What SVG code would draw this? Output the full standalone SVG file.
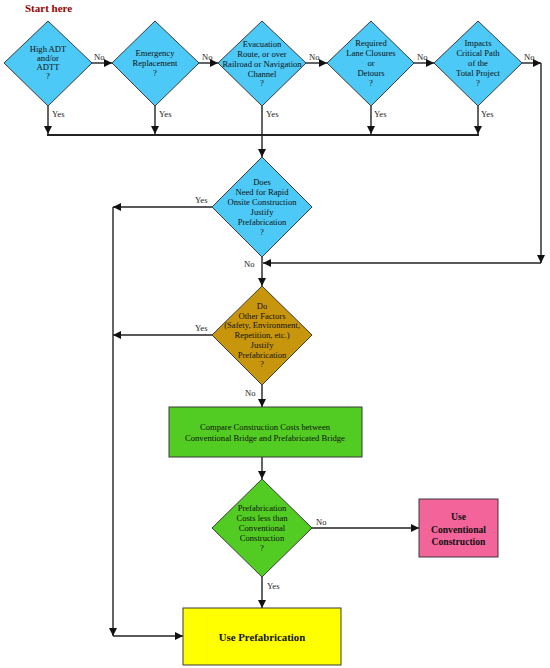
<svg xmlns="http://www.w3.org/2000/svg" width="550" height="668" viewBox="0 0 550 668">
<defs>
<marker id="ah" markerUnits="userSpaceOnUse" markerWidth="8" markerHeight="8" viewBox="0 0 8 8" refX="8" refY="4" orient="auto">
<path d="M0,0 L8,4 L0,8 Z" fill="#111"/>
</marker>
</defs>
<style>
.bg{fill:#ffffff}
.d{stroke:#3a3a3a;stroke-width:1}
.blue{fill:#4CC9F6}
.gold{fill:#C8960C}
.green{fill:#52CC22}
.t{font-family:"Liberation Serif","Times New Roman",serif;font-size:8.6px;fill:#111;text-anchor:middle}
.lbl{font-family:"Liberation Serif","Times New Roman",serif;font-size:8.6px;fill:#222}
.b{font-family:"Liberation Serif","Times New Roman",serif;font-weight:bold;fill:#111;text-anchor:middle}
.c{fill:none;stroke:#222;stroke-width:1.4}
.ca{fill:none;stroke:#222;stroke-width:1.4;marker-end:url(#ah)}
</style>
<rect class="bg" x="0" y="0" width="550" height="668"/>
<text x="25" y="12" font-family="Liberation Serif,'Times New Roman',serif" font-weight="bold" font-size="11px" fill="#990000">Start here</text>

<g id="connectors">
<line class="ca" x1="92" y1="63" x2="112" y2="63"/>
<line class="ca" x1="199" y1="63" x2="218" y2="63"/>
<line class="ca" x1="306" y1="63" x2="327" y2="63"/>
<line class="ca" x1="414" y1="63" x2="434" y2="63"/>
<line class="ca" x1="522" y1="63" x2="541" y2="63"/>
<line class="ca" x1="541" y1="63" x2="541" y2="263"/>
<line class="ca" x1="541" y1="263" x2="263" y2="263"/>
<line class="ca" x1="48" y1="106" x2="48" y2="134"/>
<line class="ca" x1="155" y1="106" x2="155" y2="134"/>
<line class="ca" x1="371" y1="106" x2="371" y2="134"/>
<line class="ca" x1="478" y1="106" x2="478" y2="134"/>
<line class="c" x1="47" y1="135" x2="479" y2="135" style="stroke-width:2"/>
<line class="ca" x1="262" y1="106" x2="262" y2="157"/>
<line class="ca" x1="212" y1="207" x2="113" y2="207"/>
<line class="ca" x1="262" y1="257" x2="262" y2="286"/>
<line class="ca" x1="212" y1="335" x2="113" y2="335"/>
<line class="ca" x1="113" y1="207" x2="113" y2="636"/>
<line class="ca" x1="113" y1="636" x2="183" y2="636"/>
<line class="ca" x1="262" y1="385" x2="262" y2="407"/>
<line class="ca" x1="262" y1="457" x2="262" y2="479"/>
<line class="ca" x1="312" y1="528" x2="419" y2="528"/>
<line class="ca" x1="262" y1="577" x2="262" y2="608"/>
<text class="lbl" x="94" y="60">No</text>
<text class="lbl" x="202" y="60">No</text>
<text class="lbl" x="309" y="60">No</text>
<text class="lbl" x="417" y="60">No</text>
<text class="lbl" x="524" y="60">No</text>
<text class="lbl" x="52" y="117">Yes</text>
<text class="lbl" x="159" y="117">Yes</text>
<text class="lbl" x="266" y="117">Yes</text>
<text class="lbl" x="374" y="117">Yes</text>
<text class="lbl" x="481" y="117">Yes</text>
<text class="lbl" x="195" y="203">Yes</text>
<text class="lbl" x="244" y="267">No</text>
<text class="lbl" x="195" y="331">Yes</text>
<text class="lbl" x="245" y="396">No</text>
<text class="lbl" x="316" y="525">No</text>
<text class="lbl" x="267" y="589">Yes</text>
</g>

<g id="q1">
<polygon class="d blue" points="48,21 92,63 48,106 4,63"/>
<text class="t"><tspan x="48" y="52">High ADT</tspan><tspan x="48" y="61">and/or</tspan><tspan x="48" y="70">ADTT</tspan><tspan x="48" y="79">?</tspan></text>
</g>
<g id="q2">
<polygon class="d blue" points="155,21 199,63 155,106 112,63"/>
<text class="t"><tspan x="155" y="56">Emergency</tspan><tspan x="155" y="66">Replacement</tspan><tspan x="155" y="76">?</tspan></text>
</g>
<g id="q3">
<polygon class="d blue" points="262,21 306,63 262,106 218,63"/>
<text class="t"><tspan x="262" y="47">Evacuation</tspan><tspan x="262" y="57">Route, or over</tspan><tspan x="262" y="67">Railroad or Navigation</tspan><tspan x="262" y="77">Channel</tspan><tspan x="262" y="86">?</tspan></text>
</g>
<g id="q4">
<polygon class="d blue" points="371,21 414,63 371,106 327,63"/>
<text class="t"><tspan x="371" y="46">Required</tspan><tspan x="371" y="56">Lane Closures</tspan><tspan x="371" y="66">or</tspan><tspan x="371" y="76">Detours</tspan><tspan x="371" y="86">?</tspan></text>
</g>
<g id="q5">
<polygon class="d blue" points="478,21 522,63 478,106 434,63"/>
<text class="t"><tspan x="478" y="46">Impacts</tspan><tspan x="478" y="56">Critical Path</tspan><tspan x="478" y="66">of the</tspan><tspan x="478" y="76">Total Project</tspan><tspan x="478" y="86">?</tspan></text>
</g>
<g id="q6">
<polygon class="d blue" points="262,157 312,207 262,257 212,207"/>
<text class="t"><tspan x="262" y="185">Does</tspan><tspan x="262" y="195">Need for Rapid</tspan><tspan x="262" y="205">Onsite Construction</tspan><tspan x="262" y="215">Justify</tspan><tspan x="262" y="225">Prefabrication</tspan><tspan x="262" y="235">?</tspan></text>
</g>
<g id="q7">
<polygon class="d gold" points="262,286 312,335 262,385 212,335"/>
<text class="t"><tspan x="262" y="309">Do</tspan><tspan x="262" y="318.7">Other Factors</tspan><tspan x="262" y="328.4">(Safety, Environment,</tspan><tspan x="262" y="338.1">Repetition, etc.)</tspan><tspan x="262" y="347.8">Justify</tspan><tspan x="262" y="357.5">Prefabrication</tspan><tspan x="262" y="367.2">?</tspan></text>
</g>
<g id="compare">
<rect class="d green" x="169" y="407" width="193" height="50"/>
<text class="t"><tspan x="265" y="430">Compare Construction Costs between</tspan><tspan x="265" y="441">Conventional Bridge and Prefabricated Bridge</tspan></text>
</g>
<g id="q8">
<polygon class="d green" points="262,479 312,528 262,577 212,528"/>
<text class="t"><tspan x="262" y="511">Prefabrication</tspan><tspan x="262" y="521">Costs less than</tspan><tspan x="262" y="531">Conventional</tspan><tspan x="262" y="541">Construction</tspan><tspan x="262" y="551">?</tspan></text>
</g>
<g id="conventional">
<rect class="d" x="419" y="499" width="79" height="58" fill="#F2649A"/>
<text class="b" font-size="9.6px"><tspan x="458.5" y="520">Use</tspan><tspan x="458.5" y="532.5">Conventional</tspan><tspan x="458.5" y="545">Construction</tspan></text>
</g>
<g id="prefab">
<rect class="d" x="183" y="608" width="158" height="57" fill="#FFFF00"/>
<text class="b" font-size="10.8px" x="262" y="640.5">Use Prefabrication</text>
</g>
</svg>
